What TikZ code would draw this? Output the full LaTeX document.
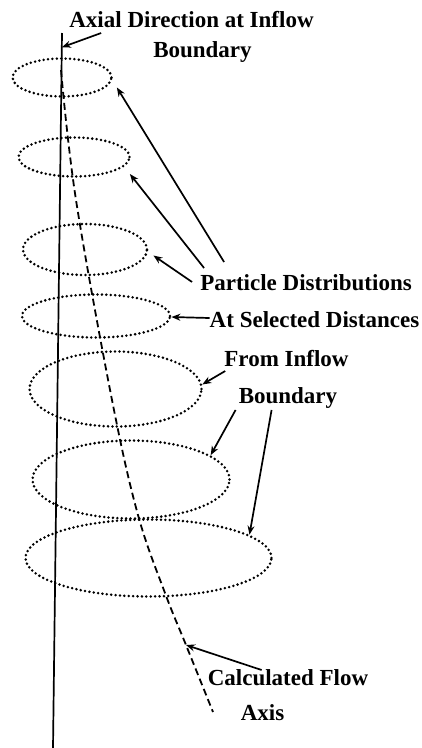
\documentclass[tikz,border=0pt]{standalone}
\usepackage{fontspec}
\setmainfont{Liberation Serif}
\usetikzlibrary{shapes.geometric, arrows.meta}

\begin{document}
\begin{tikzpicture}[x=1pt, y=-1pt, >={Stealth[length=9pt,width=7pt]},
    lbl/.style={inner sep=0pt, font=\bfseries\fontsize{23}{27}\selectfont},
    spread/.style={ellipse, draw, inner sep=0pt, line width=2.8pt, line cap=round, dash pattern=on 0pt off 4.4pt},
    ptr/.style={->, line width=1.7pt}]
    \useasboundingbox (0,0) rectangle (422,748);

    % Axial direction (solid) and calculated flow axis (dashed)
    \draw[line width=1.7pt] (62,33) -- coordinate[pos=0.02] (ax) (53,748);
    \coordinate (fa) at (186,645);
    \draw[line width=1.8pt, dash pattern=on 7pt off 4pt] plot[smooth, tension=0.6]
        coordinates {(61,70) (76,200) (112,400) (138,515) (165,593) (fa) (213,712)};

    % Particle distributions
    \node[spread, minimum width=99pt, minimum height=38pt] (e1) at (62,77.5) {};
    \node[spread, minimum width=111pt, minimum height=39pt] (e2) at (74,157) {};
    \node[spread, minimum width=124pt, minimum height=51pt] (e3) at (85,249.5) {};
    \node[spread, minimum width=148pt, minimum height=43pt] (e4) at (96,316) {};
    \node[spread, minimum width=172pt, minimum height=75pt] (e5) at (115.5,389) {};
    \node[spread, minimum width=197pt, minimum height=78pt] (e6) at (131,479.5) {};
    \node[spread, minimum width=246pt, minimum height=77pt] (e7) at (148.5,558) {};

    % Labels
    \node[lbl, anchor=base] (ax1) at (191.5,27) {Axial Direction at Inflow};
    \node[lbl, anchor=base] (ax2) at (202.5,57) {Boundary};
    \node[lbl, anchor=base] (pd) at (306,290) {Particle Distributions};
    \node[lbl, anchor=base] (asd) at (314.5,327) {At Selected Distances};
    \node[lbl, anchor=base] (fi) at (286.5,366) {From Inflow};
    \node[lbl, anchor=base] (bd) at (288,403) {Boundary};
    \node[lbl, anchor=base] (cf) at (288,685) {Calculated Flow};
    \node[lbl, anchor=base] (axs) at (262.5,720) {Axis};

    % Pointers
    \draw[ptr] ([xshift=32pt,yshift=-6pt]ax1.base west) -- (ax);
    \draw[ptr] ([xshift=24pt,yshift=28pt]pd.base west) -- ([xshift=4pt,yshift=-10pt]e1.east);
    \draw[ptr] ([xshift=4pt,yshift=22pt]pd.base west) -- ([xshift=-1pt,yshift=-17pt]e2.east);
    \draw[ptr] ([xshift=-8pt,yshift=8pt]pd.base west) -- ([xshift=5pt,yshift=-6pt]e3.east);
    \draw[ptr] ([yshift=9pt]asd.base west) -- ([yshift=-1pt]e4.east);
    \draw[ptr] ([xshift=1pt,yshift=-5pt]fi.base west) -- (e5.3);
    \draw[ptr] ([xshift=-3pt,yshift=-7pt]bd.base west) -- (e6.17);
    \draw[ptr] ([xshift=33pt,yshift=-7pt]bd.base west) -- (e7.13);
    \draw[ptr] ([xshift=54pt,yshift=15pt]cf.base west) -- (fa);
\end{tikzpicture}
\end{document}
